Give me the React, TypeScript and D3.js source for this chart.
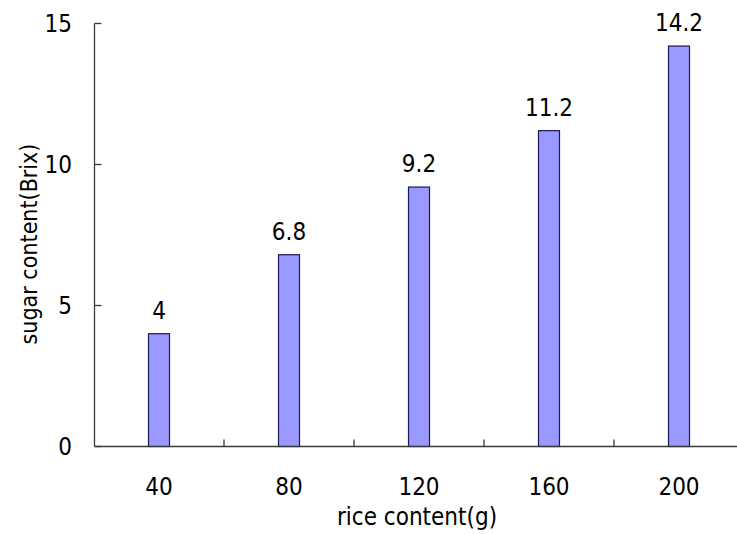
import React from "react";
import * as d3 from "d3";

// Sugar content measured for each amount of rice
const riceAmounts = ["40", "80", "120", "160", "200"];
const sugarBrix = [4, 6.8, 9.2, 11.2, 14.2];
const yTickValues = [0, 5, 10, 15];

const xAxisTitle = "rice content(g)";
const yAxisTitle = "sugar content(Brix)";

const W = 737;
const H = 534;
const FONT = "'DejaVu Sans Condensed', 'DejaVu Sans', sans-serif";

export default function App() {
  const left = 94.5;
  const bottom = 446.5;
  const top = 23.5;

  const x = d3.scaleBand<string>().domain(riceAmounts).range([94, 744]).padding(0);
  const y = d3.scaleLinear().domain([0, 15]).range([bottom, top]);
  const barW = 21;
  const axisColor = "#3a3a3a";

  const boundaries = riceAmounts.map((c) => (x(c) as number) + x.bandwidth());

  return (
    <svg
      width={W}
      height={H}
      style={{ position: "absolute", left: 0, top: 0, background: "#fff" }}
      fontFamily={FONT}
    >
      <rect x={0} y={0} width={W} height={H} fill="#fff" />

      {/* bars */}
      {riceAmounts.map((c, i) => {
        const cx = (x(c) as number) + x.bandwidth() / 2;
        const v = sugarBrix[i];
        return (
          <g key={c}>
            <rect
              x={cx - barW / 2}
              y={y(v)}
              width={barW}
              height={bottom - y(v)}
              fill="#9999ff"
              stroke="#1a1a55"
              strokeWidth={1.2}
            />
            <text
              x={cx}
              y={y(v) - 15}
              textAnchor="middle"
              fontSize={24}
              fill="#000"
            >
              {v}
            </text>
          </g>
        );
      })}

      {/* y axis */}
      <line x1={left} x2={left} y1={top} y2={bottom} stroke={axisColor} strokeWidth={1.3} />
      {yTickValues.map((t) => (
        <g key={t}>
          <line x1={left} x2={left + 7} y1={y(t)} y2={y(t)} stroke={axisColor} strokeWidth={1.3} />
          <text
            x={72}
            y={y(t)}
            dy="0.36em"
            textAnchor="end"
            fontSize={24}
            fill="#000"
          >
            {t}
          </text>
        </g>
      ))}

      {/* x axis */}
      <line x1={left} x2={W} y1={bottom} y2={bottom} stroke={axisColor} strokeWidth={1.3} />
      {boundaries.map((bx, i) => (
        <line key={i} x1={bx} x2={bx} y1={bottom} y2={bottom - 7} stroke={axisColor} strokeWidth={1.3} />
      ))}
      {riceAmounts.map((c) => (
        <text
          key={c}
          x={(x(c) as number) + x.bandwidth() / 2}
          y={495}
          textAnchor="middle"
          fontSize={24}
          fill="#000"
        >
          {c}
        </text>
      ))}

      {/* axis titles */}
      <text x={417} y={525} textAnchor="middle" fontSize={24} fill="#000">
        {xAxisTitle}
      </text>
      <text
        transform={`translate(37,244) rotate(-90)`}
        textAnchor="middle"
        fontSize={23}
        fill="#000"
      >
        {yAxisTitle}
      </text>
    </svg>
  );
}
